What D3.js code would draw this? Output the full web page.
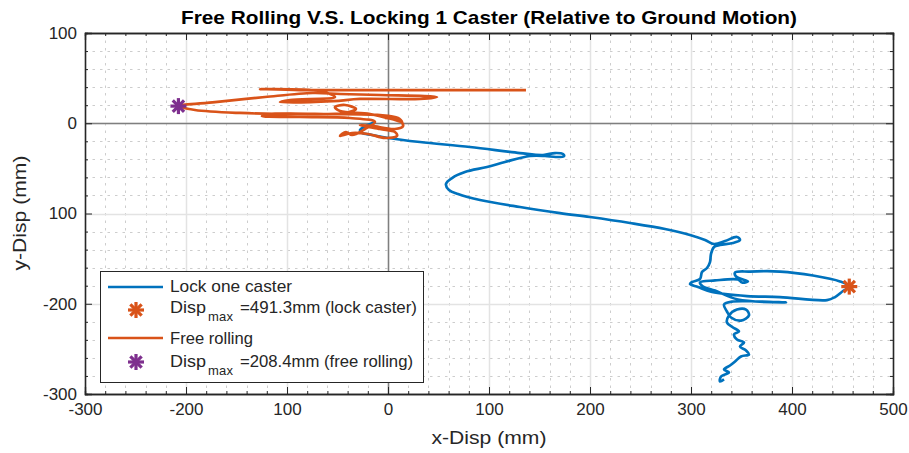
<!DOCTYPE html>
<html><head><meta charset="utf-8">
<script src="https://cdn.jsdelivr.net/npm/d3@7"></script>
<style>body{margin:0;background:#fff}svg{display:block}text{font-family:"Liberation Sans",Arial,sans-serif;fill:#262626}</style>
</head><body>
<svg id="c" width="909" height="453"></svg>
<script>
const xTicks = [-300,-200,-100,0,100,200,300,400,500];
const xTickLabels = ["-300","-200","100","0","100","200","300","400","500"];
const yTicks = [100,0,-100,-200,-300];
const yTickLabels = ["100","0","100","-200","-300"];

const lockX = [-12.9,-19.8,-27.7,-25.7,-15.8,0,31.7,81.2,130.7,153.5,165.3,173.3,174.3,166.3,155.4,140.6,115.8,98.0,76.2,63.4,57.4,60.4,69.3,91.1,130.7,170.3,200.0,239.6,274.3,299.0,313.9,322.8,333.7,345.5,348.5,341.6,328.7,322.8,319.8,318.8,315.8,310.9,308.9,301.0,299.0,306.9,320.8,355.4,388.1,434.7,442.6,450.5,456.7,447.5,420.8,388.1,358.4,343.6,344.6,356.4,350.5,346.5,323.8,308.9,311.9,323.8,346.5,394.1,368.3,341.6,332.7,335.6,339.6,349.5,357.4,354.5,345.5,337.6,335.6,341.6,347.5,342.6,345.5,352.5,348.5,354.5,357.4,349.5,343.6,338.6,332.7,337.6,329.7,328.7,332.7];
const lockY = [1.4,-1.9,-7.5,-10.8,-13.0,-16.3,-20.8,-26.3,-33.0,-35.2,-33.0,-34.1,-36.3,-37.4,-36.3,-36.3,-42.9,-48.5,-54.0,-60.7,-67.3,-74.0,-78.4,-85.0,-92.8,-99.5,-103.9,-110.5,-117.2,-123.8,-129.4,-133.8,-130.5,-126.0,-129.4,-132.7,-134.9,-137.1,-144.9,-153.8,-160.4,-164.8,-172.6,-175.9,-178.2,-181.5,-187.0,-191.5,-192.6,-195.9,-192.6,-185.9,-181.0,-175.3,-168.7,-164.3,-164.3,-165.4,-169.8,-175.3,-176.4,-173.1,-174.2,-176.4,-180.9,-185.4,-195.3,-198.6,-197.5,-197.5,-200.8,-208.6,-215.2,-218.6,-213.0,-206.4,-206.4,-213.0,-220.8,-226.3,-230.7,-234.0,-239.6,-242.9,-247.4,-251.8,-256.2,-258.4,-264.0,-268.4,-272.8,-276.1,-280.6,-286.1,-283.9];

const freeX = [-3.0,11.9,14.9,6.9,-15.8,-27.7,-7.9,6.9,8.9,-3.0,-19.8,-35.6,-47.5,-41.6,-35.6,-22.8,-12.9,-37.6,-87.1,-124.8,-114.9,-57.4,-7.9,9.9,13.9,6.9,-17.8,-47.5,-52.5,-42.6,-31.7,-42.6,-87.1,-146.5,-191.1,-207.5,-171.3,-121.8,-74.3,-47.5,-7.9,48.5,31.7,-27.7,-54.5,-106.9,-97.0,-52.5,-67.3,-126.7,-87.1,11.9,136.6];
const freeY = [5.8,2.5,-3.0,-6.4,-3.0,-1.9,-6.4,-9.7,-14.1,-16.3,-11.9,-10.8,-14.1,-9.7,-13.0,-6.4,1.4,5.8,6.9,8.0,10.2,10.2,9.1,5.8,1.4,3.6,10.2,13.6,18.0,20.2,15.8,11.4,10.2,11.4,14.7,19.0,23.5,29.1,33.5,32.4,31.3,29.1,26.9,26.9,24.6,23.5,25.7,29.1,35.7,37.9,36.8,36.8,36.8];

const lockMax = [456.7, -181.0];
const freeMax = [-207.5, 19.0];

const seriesNames = ["Lock one caster", "Free rolling"];
const maxLabels = ["=491.3mm (lock caster)", "=208.4mm (free rolling)"];

const BLUE = "#0072BD", ORANGE = "#D95319", PURPLE = "#7E2F8E";

const svg = d3.select("#c");
const L = 85, R = 893, T = 33, B = 394;
const x = d3.scaleLinear().domain([-300,500]).range([L,R]);
const y = d3.scaleLinear().domain([-300,100]).range([B,T]);

// minor grid
const minorX = d3.range(-300,501,20).filter(v => v % 100 !== 0);
const minorY = d3.range(-300,101,20).filter(v => v % 100 !== 0);
const g = svg.append("g");
g.selectAll(".mx").data(minorX).join("line").attr("x1",d=>Math.round(x(d))+0.5).attr("x2",d=>Math.round(x(d))+0.5).attr("y1",T).attr("y2",B)
  .attr("stroke","#cdcdcd").attr("stroke-width",1).attr("stroke-dasharray","2.5,5");
g.selectAll(".my").data(minorY).join("line").attr("y1",d=>Math.round(y(d))+0.5).attr("y2",d=>Math.round(y(d))+0.5).attr("x1",L).attr("x2",R)
  .attr("stroke","#cdcdcd").attr("stroke-width",1).attr("stroke-dasharray","2.5,5");
// major grid
g.selectAll(".Mx").data(xTicks).join("line").attr("x1",d=>Math.round(x(d))+0.5).attr("x2",d=>Math.round(x(d))+0.5).attr("y1",T).attr("y2",B)
  .attr("stroke","#e3e3e3").attr("stroke-width",1.5);
g.selectAll(".My").data(yTicks).join("line").attr("y1",d=>Math.round(y(d))+0.5).attr("y2",d=>Math.round(y(d))+0.5).attr("x1",L).attr("x2",R)
  .attr("stroke","#e3e3e3").attr("stroke-width",1.5);
// zero lines
g.append("line").attr("x1",Math.round(x(0))+0.5).attr("x2",Math.round(x(0))+0.5).attr("y1",T).attr("y2",B).attr("stroke","#7f7f7f").attr("stroke-width",1.5);
g.append("line").attr("y1",Math.round(y(0))+0.5).attr("y2",Math.round(y(0))+0.5).attr("x1",L).attr("x2",R).attr("stroke","#7f7f7f").attr("stroke-width",1.5);

// axes with inward ticks
const axG = svg.append("g");
const fmtX = (d,i) => xTickLabels[i];
const fmtY = (d,i) => yTickLabels[i];
axG.append("g").attr("transform",`translate(0,${B})`)
  .call(d3.axisBottom(x).tickValues(xTicks).tickSize(-7).tickPadding(9).tickFormat(fmtX));
axG.append("g").attr("transform",`translate(0,${T})`)
  .call(d3.axisTop(x).tickValues(xTicks).tickSize(-7).tickFormat(""));
axG.append("g").attr("transform",`translate(${L},0)`)
  .call(d3.axisLeft(y).tickValues(yTicks).tickSize(-7).tickPadding(8).tickFormat(fmtY));
axG.append("g").attr("transform",`translate(${R},0)`)
  .call(d3.axisRight(y).tickValues(yTicks).tickSize(-7).tickFormat(""));
// minor ticks
axG.append("g").attr("transform",`translate(0,${B})`).call(d3.axisBottom(x).tickValues(minorX).tickSize(-3).tickFormat(""));
axG.append("g").attr("transform",`translate(0,${T})`).call(d3.axisTop(x).tickValues(minorX).tickSize(-3).tickFormat(""));
axG.append("g").attr("transform",`translate(${L},0)`).call(d3.axisLeft(y).tickValues(minorY).tickSize(-3).tickFormat(""));
axG.append("g").attr("transform",`translate(${R},0)`).call(d3.axisRight(y).tickValues(minorY).tickSize(-3).tickFormat(""));
axG.selectAll(".domain").attr("stroke","#262626").attr("stroke-width",1.3);
axG.selectAll(".tick line").attr("stroke","#262626").attr("stroke-width",1);
axG.selectAll(".tick text").attr("font-size",17).attr("fill","#262626").style("font-family","'Liberation Sans',Arial,sans-serif");

// lines
const lineGen = d3.line().x(d=>x(d[0])).y(d=>y(d[1])).curve(d3.curveCatmullRom.alpha(0.5));
const plot = svg.append("g");
plot.append("path").datum(lockX.map((v,i)=>[v,lockY[i]])).attr("d",lineGen)
  .attr("fill","none").attr("stroke",BLUE).attr("stroke-width",2.7).attr("stroke-linejoin","round");
plot.append("path").datum(freeX.map((v,i)=>[v,freeY[i]])).attr("d",lineGen)
  .attr("fill","none").attr("stroke",ORANGE).attr("stroke-width",2.7).attr("stroke-linejoin","round");

function star(sel, cx, cy, color){
  const r = 8;
  const gg = sel.append("g").attr("transform",`translate(${cx},${cy})`);
  [0,45,90,135].forEach(a=>{
    const t = a*Math.PI/180;
    gg.append("line").attr("x1",-r*Math.cos(t)).attr("y1",-r*Math.sin(t)).attr("x2",r*Math.cos(t)).attr("y2",r*Math.sin(t))
      .attr("stroke",color).attr("stroke-width",3.2);
  });
}
star(plot, x(lockMax[0]), y(lockMax[1]), ORANGE);
star(plot, x(freeMax[0]), y(freeMax[1]), PURPLE);

// legend
const lg = svg.append("g");
lg.append("rect").attr("x",100.5).attr("y",271.5).attr("width",323).attr("height",111).attr("fill","#fff").attr("stroke","#262626").attr("stroke-width",1);
const rows = [
  {type:"line", color:BLUE, cy:287, base:292, label:seriesNames[0], w:122},
  {type:"star", color:ORANGE, cy:310, base:313, label:maxLabels[0], w:177},
  {type:"line", color:ORANGE, cy:338, base:344, label:seriesNames[1], w:83},
  {type:"star", color:PURPLE, cy:362, base:367, label:maxLabels[1], w:173}
];
rows.forEach(r=>{
  if(r.type==="line"){
    lg.append("line").attr("x1",108).attr("x2",163).attr("y1",r.cy).attr("y2",r.cy).attr("stroke",r.color).attr("stroke-width",2.7);
    lg.append("text").attr("x",170).attr("y",r.base).attr("font-size",17)
      .attr("textLength",r.w).attr("lengthAdjust","spacingAndGlyphs").text(r.label);
  } else {
    star(lg,136,r.cy,r.color);
    lg.append("text").attr("x",170).attr("y",r.base).attr("font-size",17)
      .attr("textLength",36).attr("lengthAdjust","spacingAndGlyphs").text("Disp");
    lg.append("text").attr("x",208).attr("y",r.base+8).attr("font-size",13)
      .attr("textLength",25).attr("lengthAdjust","spacing").text("max");
    lg.append("text").attr("x",240).attr("y",r.base).attr("font-size",17)
      .attr("textLength",r.w).attr("lengthAdjust","spacingAndGlyphs").text(r.label);
  }
});

// title & labels
svg.append("text").attr("x",489).attr("y",24).attr("text-anchor","middle").attr("font-size",19).attr("font-weight","bold")
  .attr("textLength",616).attr("lengthAdjust","spacingAndGlyphs")
  .style("fill","#000").text("Free Rolling V.S. Locking 1 Caster (Relative to Ground Motion)");
svg.append("text").attr("x",489).attr("y",444).attr("text-anchor","middle").attr("font-size",18.5)
  .attr("textLength",115).attr("lengthAdjust","spacingAndGlyphs").text("x-Disp (mm)");
svg.append("text").attr("transform","translate(26,213) rotate(-90)").attr("text-anchor","middle").attr("font-size",18.5)
  .attr("textLength",115).attr("lengthAdjust","spacingAndGlyphs").text("y-Disp (mm)");
</script>
</body></html>
